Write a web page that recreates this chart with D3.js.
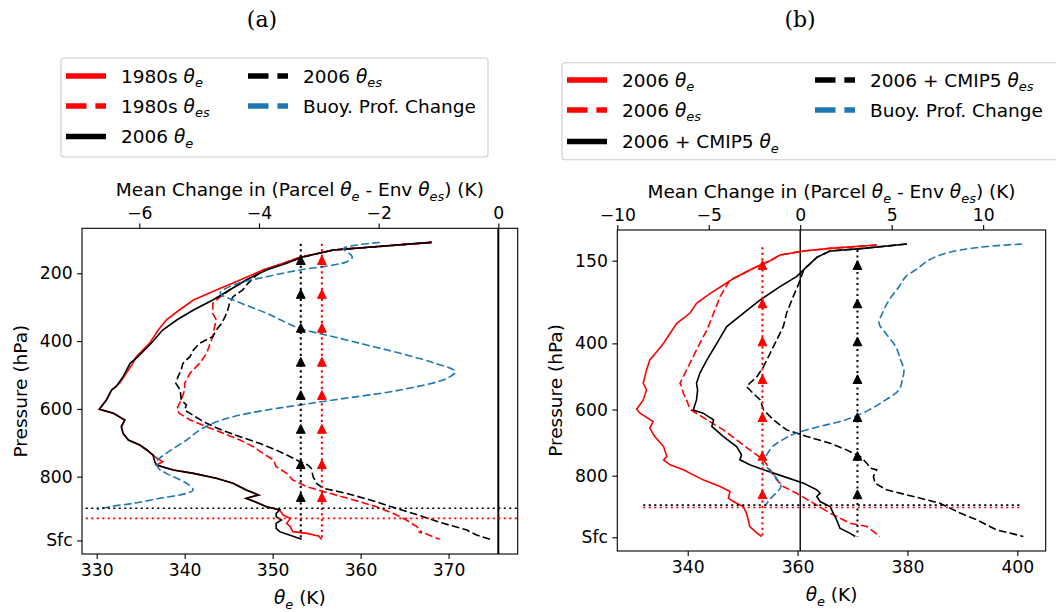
<!DOCTYPE html>
<html lang="en">
<head>
<meta charset="utf-8">
<title>theta-e profiles</title>
<style>
  body { margin: 0; background: #fff; }
  svg text { font-family: "DejaVu Sans", sans-serif; fill: #000; }
</style>
</head>
<body>
<svg id="fig"></svg>
<script src="https://cdn.jsdelivr.net/npm/d3@7"></script>
<script>
// every profile point is [value, pressure (hPa)]; theta curves in K, buoyancy in K (top axis)

// ---- panel (a): 1980s vs 2006
const a1980Te = [[368.1,108.7],[356.9,131.3],[353.1,152.9],[351.2,170.6],[348.9,190.3],[346.3,219.8],[343.6,249.3],[341.0,278.8],[339.4,308.3],[337.9,337.8],[337.0,367.3],[336.0,406.6],[334.5,445.9],[334.1,465.6],[333.6,485.3],[332.6,524.6],[331.7,544.2],[331.1,573.7],[330.3,601.3],[331.9,613.1],[333.2,632.7],[332.8,652.4],[333.0,672.1],[333.6,691.7],[334.9,706.5],[335.7,721.2],[336.4,736],[336.8,745],[337.5,755.7],[336.8,765.5],[338.7,780.2],[341.0,790.1],[343.6,804.8],[345.5,819.6],[347.0,839.2],[348.4,854],[347.0,863.8],[348.0,873.7],[349.3,888.4],[350.8,898.2],[351.2,913],[352.0,922.8],[351.6,937.6],[352.0,947.4],[352.3,962.1],[353.9,967.1],[355.2,975],[355.6,984.8]];
const a2006Te = [[368.0,108.7],[356.9,131.3],[353.3,152.9],[351.6,170.6],[349.3,190.3],[347.0,219.8],[345.1,249.3],[343.2,278.8],[341.0,308.3],[339.1,337.8],[337.5,367.3],[336.2,406.6],[334.7,445.9],[333.8,465.6],[333.0,504.9],[332.2,534.4],[331.7,544.2],[331.1,573.7],[330.3,601.3],[331.9,613.1],[333.2,632.7],[332.8,652.4],[333.0,672.1],[333.6,691.7],[334.9,706.5],[335.7,721.2],[336.4,736],[336.6,755.7],[336.8,765.5],[338.7,780.2],[341.0,790.1],[343.6,804.8],[345.5,819.6],[347.0,839.2],[348.4,854],[347.0,863.8],[348.0,873.7],[349.3,888.4],[350.8,898.2],[350.4,908.1],[350.4,917.9],[351.0,927.7],[350.4,937.6],[350.4,952.3],[350.8,962.1],[351.9,972],[353.3,984.8]];
const a1980Tes = [[368.1,108.7],[356.9,131.3],[353.1,152.9],[351.2,170.6],[349.1,190.3],[347.0,219.8],[345.1,249.3],[343.6,278.8],[343.2,288.6],[343.2,318.1],[343.6,337.8],[343.4,357.5],[343.2,386.9],[342.9,406.6],[342.5,436.1],[341.7,465.6],[340.6,495.1],[340.0,524.6],[340.0,544.2],[339.6,573.7],[339.1,601.3],[339.4,613.1],[340.6,632.7],[342.5,652.4],[344.4,672.1],[346.3,691.7],[347.8,711.4],[348.9,731.1],[350.1,750.7],[350.4,770.4],[351.6,790.1],[352.3,809.7],[353.9,829.4],[356.5,849.1],[359.2,868.7],[361.8,888.4],[363.7,908.1],[365.2,927.7],[366.4,947.4],[366.9,962.1],[366.6,964],[367.3,967.1],[369.0,984.8]];
const a2006Tes = [[368.1,108.7],[356.9,131.3],[353.3,152.9],[351.4,170.6],[348.9,190.3],[348.0,209.9],[347.2,229.6],[346.6,249.3],[345.5,269],[345.1,288.6],[344.9,308.3],[344.6,328],[344.2,347.6],[343.6,367.3],[343.2,386.9],[341.7,406.6],[341.0,426.3],[340.6,445.9],[339.8,465.6],[339.6,485.3],[339.25,504.9],[339.0,524.6],[339.5,544.2],[339.6,573.7],[340.2,588.5],[340.0,603.2],[341.2,622.9],[342.5,642.6],[344.2,662.2],[346.3,681.9],[348.5,701.6],[350.4,721.2],[352.0,740.9],[353.1,755.7],[354.0,765.5],[354.4,775.3],[354.6,799.9],[355.0,819.6],[355.75,834.3],[358.4,849.1],[361.1,868.7],[364.1,893.3],[367.1,917.9],[369.4,937.6],[372.1,957.2],[372.4,962.1],[373.2,972],[374.7,984.8]];
const aBuoy = [[-1.98,109],[-2.42,118],[-2.59,128],[-2.48,143],[-2.44,153],[-2.53,165.8],[-2.76,175.5],[-3.32,190.3],[-3.87,210],[-4.43,234.5],[-4.65,259],[-4.43,278.8],[-3.87,318.1],[-3.32,362.4],[-2.76,387],[-2.20,411.5],[-1.64,436.1],[-1.09,463.6],[-0.72,490.2],[-0.86,509.9],[-1.64,544.2],[-2.76,573.7],[-3.32,588.5],[-3.87,603.2],[-4.43,622.9],[-4.77,642.6],[-4.99,662.2],[-5.21,691.7],[-5.55,731.1],[-5.71,755.7],[-5.68,775.3],[-5.55,790.1],[-5.21,819.6],[-5.10,839.2],[-5.21,849.1],[-5.66,863.8],[-6.10,878.6],[-6.49,888.4],[-6.71,896.3]];
const aParcel = [353.2, 355.6];          // 2006, 1980s parcel theta-e
const aParcelTop = [113, 113];
const aLcl = [893, 923];                // 2006, 1980s
const aMarkP = [161, 261, 361, 461, 559, 659, 763, 860];
const aThetaTicks = [330, 340, 350, 360, 370];
const aBuoyTicks = [-6, -4, -2, 0];
const aPresTicks = [200, 400, 600, 800, 988];

// ---- panel (b): 2006 vs 2006 + CMIP5
const b2006Te = [[374.4,102.6],[365.9,112.7],[361.1,120.7],[356.8,132.8],[355.0,149.9],[353.2,163],[351.3,178],[348.9,198.3],[346.5,223.4],[344.1,248.6],[341.6,278.8],[340.4,309],[338.0,339.2],[336.8,369.5],[335.6,399.7],[334.4,424.8],[333.1,450],[332.5,480.2],[331.9,520.5],[332.5,540.6],[331.9,570.8],[330.7,599],[331.3,611],[333.7,636],[333.1,656],[334.0,681.6],[335.6,711.8],[336.2,742],[335.6,752],[336.8,767],[339.2,782],[342.8,812.5],[345.9,832.7],[347.7,847.8],[347.4,868],[348.3,878],[350.1,893],[350.7,913],[351.0,933],[351.3,953.5],[352.6,973.6],[353.5,983.7]];
const bCmipTe = [[379.9,99.6],[372.0,112.7],[365.9,120.7],[363.5,139.8],[361.7,168],[359.8,198.3],[356.8,228.5],[353.2,268.7],[350.1,309],[347.1,349.3],[345.3,399.7],[343.5,450],[342.2,490.3],[341.6,520.5],[341.8,540.7],[341.6,570.8],[341.0,601],[342.8,611],[344.7,631],[344.4,651],[346.5,681.6],[348.9,711.8],[349.8,737],[349.5,752],[351.3,767],[353.8,782],[357.4,802],[361.1,822.6],[363.5,842.7],[364.1,852.8],[363.5,862.9],[364.1,878],[365.9,893],[366.5,913],[367.1,933],[367.7,958.5],[369.5,973.6],[370.5,983.7]];
const b2006Tes = [[374.4,102.6],[365.9,112.7],[361.1,120.7],[356.8,132.8],[355.0,149.9],[353.2,163],[351.3,178],[349.5,195],[347.7,208],[345.9,258.7],[344.7,309],[343.5,359.4],[342.2,399.7],[341.0,440],[339.8,480.2],[338.6,520.5],[338.9,530.5],[339.2,550.7],[339.8,570.8],[340.4,599],[343.5,631],[346.5,661.5],[348.9,691.7],[351.3,721.9],[353.8,752],[355.0,782],[356.2,812.5],[357.4,832.7],[359.8,852.8],[362.9,883],[365.9,913],[369.5,943.4],[372.6,953.5],[375.0,983.7]];
const bCmipTes = [[379.9,99.6],[372.0,112.7],[365.9,120.7],[363.5,139.8],[361.7,168],[361.1,178],[360.2,220],[359.2,258.7],[358.0,309],[357.4,349.3],[356.2,389.6],[355.0,429.9],[353.8,470.2],[352.6,500.4],[351.3,520.6],[350.7,530.5],[351.9,550.7],[353.2,570.8],[353.8,601],[355.6,631],[358.0,661.5],[361.7,681.6],[365.9,701.7],[368.9,721.9],[371.4,742],[372.6,762],[373.2,777],[374.4,782],[373.8,802],[374.1,822.6],[376.2,842.7],[381.1,862.9],[385.9,883],[389.6,913],[392.6,933],[395.0,953.5],[396.2,963.6],[398.7,973.6],[401.1,983.7]];
const bBuoy = [[12.13,99.6],[9.77,109.6],[7.95,127.8],[7.04,147.9],[6.31,178],[5.77,198.3],[5.40,228.5],[4.86,268.7],[4.49,309],[4.31,339.2],[4.67,369.5],[5.22,409.7],[5.49,450],[5.67,480.2],[5.58,510.4],[5.40,540.7],[4.67,570.8],[3.77,601],[2.49,631],[1.04,651.4],[-0.24,671.5],[-0.97,691.7],[-1.51,711.8],[-1.88,742],[-2.06,762],[-1.69,782],[-1.23,812.5],[-1.05,832.7],[-1.33,852.8],[-1.69,873],[-1.88,889]];
const bParcel = [370.9, 353.6];         // 2006 + CMIP5, 2006 parcel theta-e
const bParcelTop = [117.7, 109.6];
const bLcl = [889, 896];
const bLclSpan = [331.9, 401.0];
const bMarkP = [163, 279, 394, 508, 623, 740, 856];
const bThetaTicks = [340, 360, 380, 400];
const bBuoyTicks = [-10, -5, 0, 5, 10];
const bPresTicks = [150, 400, 600, 800, 986];

const RED = '#ff0000', BLACK = '#000000', BLUE = '#1f77b4';
const DASH = '7.7,3.3', DOT = '2.1,3.4';
const TICK_FS = 17.2, LABEL_FS = 18.5, LEG_FS = 18.5;

const svg = d3.select('#fig').attr('width', 1056).attr('height', 612);

// theta with italic subscript, like matplotlib mathtext
function mathLabel(t, parts) {
  let back = 0;
  parts.forEach(function(p) {
    if (typeof p === 'string') {
      t.append('tspan').attr('dy', back ? -back : null).text(p);
      back = 0;
    } else {
      t.append('tspan').attr('font-style', 'italic').text('θ');
      t.append('tspan').attr('font-style', 'italic').attr('font-size', '0.7em')
        .attr('dy', p.sh).text(p.sub);
      back = p.sh;
    }
  });
}
const minus = d => (d < 0 ? '\u2212' + Math.abs(d) : '' + d);
const th = s => ({ sub: s, sh: 4.5 });

function drawPanel(c) {
  const x = d3.scaleLinear().domain(c.thDom).range([c.left, c.right]);
  const xt = d3.scaleLinear().domain(c.buoyDom).range([c.left, c.right]);
  const y = d3.scaleLinear().domain(c.pDom).range([c.top, c.bottom]);

  const clipId = 'clip' + c.id;
  svg.append('clipPath').attr('id', clipId).append('rect')
    .attr('x', c.left).attr('y', c.top)
    .attr('width', c.right - c.left).attr('height', c.bottom - c.top);

  const plot = svg.append('g').attr('clip-path', 'url(#' + clipId + ')');

  const line = d3.line().x(d => x(d[0])).y(d => y(d[1]));
  const bline = d3.line().x(d => xt(d[0])).y(d => y(d[1])).curve(d3.curveCatmullRom.alpha(0.5));

  // zero buoyancy line
  plot.append('line')
    .attr('x1', xt(0)).attr('x2', xt(0)).attr('y1', c.top).attr('y2', c.bottom)
    .attr('stroke', BLACK).attr('stroke-width', c.zeroW);

  c.curves.forEach(function(s) {
    plot.append('path').datum(s.data)
      .attr('d', line)
      .attr('fill', 'none')
      .attr('stroke', s.color)
      .attr('stroke-width', 1.6)
      .attr('stroke-dasharray', s.dash || null);
  });

  plot.append('path').datum(c.buoy)
    .attr('d', bline).attr('fill', 'none')
    .attr('stroke', BLUE).attr('stroke-width', 1.6)
    .attr('stroke-dasharray', DASH);

  // parcel lines with upward markers
  c.parcels.forEach(function(pc) {
    plot.append('line')
      .attr('x1', x(pc.th)).attr('x2', x(pc.th))
      .attr('y1', y(pc.top)).attr('y2', y(pc.bot))
      .attr('stroke', pc.color).attr('stroke-width', 2).attr('stroke-dasharray', DOT);
    plot.selectAll(null).data(c.markP).enter().append('path')
      .attr('d', 'M0,-4.4L4.4,4.4L-4.4,4.4Z')
      .attr('transform', d => 'translate(' + x(pc.th) + ',' + y(d) + ')')
      .attr('fill', pc.color).attr('stroke', pc.color).attr('stroke-width', 1);
  });

  // level lines
  c.lcl.forEach(function(l) {
    plot.append('line')
      .attr('x1', x(l.span[0])).attr('x2', x(l.span[1]))
      .attr('y1', y(l.p)).attr('y2', y(l.p))
      .attr('stroke', l.color).attr('stroke-width', 1.6).attr('stroke-dasharray', DOT);
  });

  // spines
  svg.append('rect')
    .attr('x', c.left).attr('y', c.top)
    .attr('width', c.right - c.left).attr('height', c.bottom - c.top)
    .attr('fill', 'none').attr('stroke', '#000').attr('stroke-width', 1.1);

  function styleAxis(g) {
    g.select('.domain').remove();
    g.selectAll('.tick line').attr('stroke', '#000').attr('stroke-width', 1.1);
    g.selectAll('.tick text').attr('font-size', TICK_FS).attr('font-family', '"DejaVu Sans", sans-serif');
  }

  svg.append('g').attr('transform', 'translate(0,' + c.bottom + ')')
    .call(d3.axisBottom(x).tickValues(c.thTicks).tickSize(4.9).tickPadding(4.5))
    .call(styleAxis);
  svg.append('g').attr('transform', 'translate(0,' + c.top + ')')
    .call(d3.axisTop(xt).tickValues(c.buoyTicks).tickFormat(minus).tickSize(4.9).tickPadding(4.5))
    .call(styleAxis);
  svg.append('g').attr('transform', 'translate(' + c.left + ',0)')
    .call(d3.axisLeft(y).tickValues(c.pTicks).tickSize(4.9).tickPadding(4.5)
      .tickFormat(d => (d === c.pTicks[c.pTicks.length - 1] ? 'Sfc' : d)))
    .call(styleAxis);

  const mid = (c.left + c.right) / 2;
  mathLabel(svg.append('text').attr('x', mid).attr('y', c.bottom + 50)
    .attr('text-anchor', 'middle').attr('font-size', LABEL_FS), [th('e'), ' (K)']);
  mathLabel(svg.append('text').attr('x', mid).attr('y', c.top - 32)
    .attr('text-anchor', 'middle').attr('font-size', LABEL_FS),
    ['Mean Change in (Parcel ', th('e'), ' - Env ', th('es'), ') (K)']);
  svg.append('text')
    .attr('transform', 'translate(' + c.ylabX + ',' + ((c.top + c.bottom) / 2) + ') rotate(-90)')
    .attr('text-anchor', 'middle').attr('font-size', LABEL_FS).attr('dy', '0.35em')
    .text('Pressure (hPa)');

  svg.append('text').attr('x', c.titleX).attr('y', 27).attr('text-anchor', 'middle')
    .attr('font-size', 22).style('font-family', '"DejaVu Serif", serif').text(c.title);

  // legend
  const L = c.legend;
  svg.append('rect').attr('x', L.x).attr('y', L.y).attr('width', L.w).attr('height', L.h)
    .attr('rx', 3).attr('fill', '#fff').attr('fill-opacity', 0.8)
    .attr('stroke', '#cccccc').attr('stroke-width', 1.1);
  L.items.forEach(function(it) {
    svg.append('line')
      .attr('x1', it.x).attr('x2', it.x + 40).attr('y1', it.y).attr('y2', it.y)
      .attr('stroke', it.color).attr('stroke-width', 5.5)
      .attr('stroke-dasharray', it.dash ? '20.5,8.9' : null);
    mathLabel(svg.append('text').attr('x', it.x + 55).attr('y', it.y + 6.5).attr('font-size', LEG_FS), it.label);
  });
}

drawPanel({
  id: 'a', title: '(a)', titleX: 262,
  left: 82, right: 517.7, top: 228.3, bottom: 554,
  thDom: [328.33, 377.86], buoyDom: [-6.958, 0.324], pDom: [67.3, 1028],
  thTicks: aThetaTicks, buoyTicks: aBuoyTicks, pTicks: aPresTicks,
  ylabX: 21, zeroW: 2,
  curves: [
    { data: a1980Tes, color: RED, dash: DASH },
    { data: a2006Tes, color: BLACK, dash: DASH },
    { data: a1980Te, color: RED },
    { data: a2006Te, color: BLACK }
  ],
  buoy: aBuoy,
  parcels: [
    { th: aParcel[0], top: aParcelTop[0], bot: aPresTicks[4] - 3, color: BLACK },
    { th: aParcel[1], top: aParcelTop[1], bot: aPresTicks[4] - 3, color: RED }
  ],
  markP: aMarkP,
  lcl: [
    { p: aLcl[0], span: [320, 390], color: BLACK },
    { p: aLcl[1], span: [320, 390], color: RED }
  ],
  legend: {
    x: 61, y: 58, w: 427, h: 99,
    items: [
      { x: 66, y: 76, color: RED, label: ['1980s ', th('e')] },
      { x: 66, y: 106, color: RED, dash: true, label: ['1980s ', th('es')] },
      { x: 66, y: 136.5, color: BLACK, label: ['2006 ', th('e')] },
      { x: 248, y: 76, color: BLACK, dash: true, label: ['2006 ', th('es')] },
      { x: 248, y: 106, color: BLUE, dash: true, label: ['Buoy. Prof. Change'] }
    ]
  }
});

drawPanel({
  id: 'b', title: '(b)', titleX: 800,
  left: 617.3, right: 1045.7, top: 230, bottom: 551,
  thDom: [327.18, 405.17], buoyDom: [-10, 13.42], pDom: [57.2, 1027.6],
  thTicks: bThetaTicks, buoyTicks: bBuoyTicks, pTicks: bPresTicks,
  ylabX: 556, zeroW: 1.4,
  curves: [
    { data: b2006Tes, color: RED, dash: DASH },
    { data: bCmipTes, color: BLACK, dash: DASH },
    { data: b2006Te, color: RED },
    { data: bCmipTe, color: BLACK }
  ],
  buoy: bBuoy,
  parcels: [
    { th: bParcel[0], top: bParcelTop[0], bot: bPresTicks[4] - 2, color: BLACK },
    { th: bParcel[1], top: bParcelTop[1], bot: bPresTicks[4] - 2, color: RED }
  ],
  markP: bMarkP,
  lcl: [
    { p: bLcl[0], span: bLclSpan, color: BLACK },
    { p: bLcl[1], span: bLclSpan, color: RED }
  ],
  legend: {
    x: 562, y: 62.7, w: 500, h: 97,
    items: [
      { x: 567, y: 80, color: RED, label: ['2006 ', th('e')] },
      { x: 567, y: 110, color: RED, dash: true, label: ['2006 ', th('es')] },
      { x: 567, y: 141.5, color: BLACK, label: ['2006 + CMIP5 ', th('e')] },
      { x: 815, y: 80, color: BLACK, dash: true, label: ['2006 + CMIP5 ', th('es')] },
      { x: 815, y: 110, color: BLUE, dash: true, label: ['Buoy. Prof. Change'] }
    ]
  }
});
</script>
</body>
</html>
